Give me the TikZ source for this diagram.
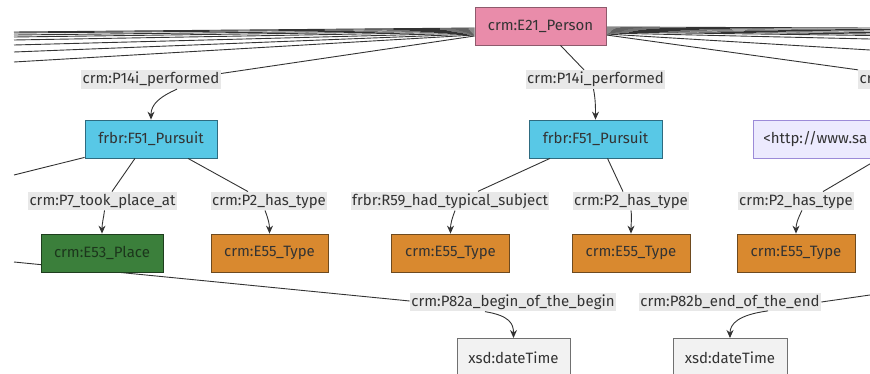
\documentclass[tikz,border=0pt]{standalone}
\usepackage{fontspec}
\setmainfont{Fira Sans}
\usepackage{xcolor}
\usetikzlibrary{arrows.meta,positioning,backgrounds}

\definecolor{ink}{HTML}{333333}
\definecolor{lblgray}{HTML}{E8E8E8}
\definecolor{personfill}{HTML}{E98CAA}
\definecolor{persondraw}{HTML}{8E5A6C}
\definecolor{pursuitfill}{HTML}{58C8E6}
\definecolor{pursuitdraw}{HTML}{2E6B80}
\definecolor{placefill}{HTML}{3B7F3B}
\definecolor{placedraw}{HTML}{1E3E1E}
\definecolor{placetext}{HTML}{1C361C}
\definecolor{typefill}{HTML}{D9892F}
\definecolor{typedraw}{HTML}{6E4A1F}
\definecolor{uriFill}{HTML}{ECEAFE}
\definecolor{uriDraw}{HTML}{9C8BD8}
\definecolor{timefill}{HTML}{F2F2F2}
\definecolor{timedraw}{HTML}{707070}

\begin{document}
\begin{tikzpicture}[x=1pt, y=-1pt,
    box/.style={draw, line width=0.8pt, minimum height=38pt, inner sep=0pt,
        font=\fontsize{15}{17}\selectfont, text=ink},
    person/.style={box, fill=personfill, draw=persondraw},
    pursuit/.style={box, fill=pursuitfill, draw=pursuitdraw},
    place/.style={box, fill=placefill, draw=placedraw, text=placetext},
    etype/.style={box, fill=typefill, draw=typedraw},
    uri/.style={box, fill=uriFill, draw=uriDraw},
    stamp/.style={box, fill=timefill, draw=timedraw},
    lbl/.style={fill=lblgray, inner xsep=1.5pt, inner ysep=2pt,
        font=\fontsize{15}{17}\selectfont, text=ink},
    link/.style={draw=ink, line width=0.9pt},
    arr/.style={link, -{Stealth[length=8pt, width=7pt]}}]
    \useasboundingbox (0,0) rectangle (870,374);

    % classes
    \node[person, minimum width=131pt] (person) at (540.5,26) {crm:E21\_Person};
    \node[pursuit, minimum width=132pt] (pursuitA) at (151,139) {frbr:F51\_Pursuit};
    \node[pursuit, minimum width=133pt] (pursuitB) at (595.5,139) {frbr:F51\_Pursuit};
    \node[uri, anchor=west, inner xsep=10pt, text width=130pt, align=left] (uri) at (753,139) {<http://www.sa};
    \node[place, minimum width=122pt] (place) at (102,253) {crm:E53\_Place};
    \node[etype, minimum width=117pt] (typeA) at (269.5,253) {crm:E55\_Type};
    \node[etype, minimum width=118pt] (typeB) at (450.5,253) {crm:E55\_Type};
    \node[etype, minimum width=118pt] (typeC) at (631,253) {crm:E55\_Type};
    \node[etype, minimum width=118pt] (typeD) at (796,253) {crm:E55\_Type};
    \node[stamp, minimum width=113pt, anchor=north] (timeA) at (513.5,338) {xsd:dateTime};
    \node[stamp, minimum width=114pt, anchor=north] (timeB) at (730,338) {xsd:dateTime};

    % edge labels
    \node[lbl] (lblPerfA) at (151,79.5) {crm:P14i\_performed};
    \node[lbl] (lblPerfB) at (595.5,79.5) {crm:P14i\_performed};
    \node[lbl, anchor=west] (lblPerfC) at (858,79.5) {crm:P14i\_performed};
    \node[lbl] (lblPlace) at (102.5,201) {crm:P7\_took\_place\_at};
    \node[lbl] (lblTypeA) at (269,201) {crm:P2\_has\_type};
    \node[lbl] (lblSubject) at (450,201) {frbr:R59\_had\_typical\_subject};
    \node[lbl] (lblTypeC) at (631,201) {crm:P2\_has\_type};
    \node[lbl] (lblTypeD) at (796,201) {crm:P2\_has\_type};
    \node[lbl] (lblBegin) at (513,302) {crm:P82a\_begin\_of\_the\_begin};
    \node[lbl] (lblEnd) at (730,302) {crm:P82b\_end\_of\_the\_end};

    % free ends outside the frame
    \coordinate (farA) at (14,175);
    \coordinate (farPlace) at (14,262);
    \coordinate (farUri) at (880,158);
    \coordinate (farEnd) at (870,295);

    \begin{scope}[on background layer]
        \foreach \y/\d in {32/2, 33/3, 35/4, 37/5, 40/6, 45/7, 52/8, 62/9} {
            \coordinate (fanL\d) at (14,\y);
            \draw[link] (fanL\d) -- ([yshift=-\d pt]person.west);
        }
        \foreach \y/\d in {28/1, 29.5/2, 31/3, 32.5/4, 34/5, 35.5/6, 39/7, 50/8} {
            \coordinate (fanR\d) at (870,\y);
            \draw[link] ([yshift=-\d pt]person.east) -- (fanR\d);
        }
        \draw[link] ([yshift=-10pt]person.west) -- ([yshift=6pt]lblPerfA.east);
        \draw[link] ([yshift=-9pt]person.east) -- (lblPerfC.north west);
        \draw[link] ([yshift=1pt]pursuitA.south west) -- (farA);
        \draw[link] (farPlace) -- ([yshift=1pt]lblBegin.west);
        \draw[link] (farUri) -- ([xshift=27pt]lblTypeD.north);
        \draw[link] (farEnd) -- (lblEnd.east);
    \end{scope}

    % person -> pursuits
    \draw[arr] ([xshift=26pt]lblPerfA.south) .. controls +(-18,8) and +(0,-15) .. (pursuitA.north);
    \draw[link] ([xshift=20pt]person.south) -- ([xshift=-11.5pt]lblPerfB.north);
    \draw[arr] ([xshift=-2pt]lblPerfB.south) .. controls +(2,10) and +(0,-12) .. (pursuitB.north);

    % pursuit A
    \draw[link] ([xshift=-16pt]pursuitA.south) -- ([xshift=9.5pt]lblPlace.north);
    \draw[arr] ([xshift=2pt]lblPlace.south) .. controls +(-1,8) and +(0,-10) .. (place.north);
    \draw[link] ([xshift=37pt]pursuitA.south) -- ([xshift=-21pt]lblTypeA.north);
    \draw[arr] ([xshift=-4pt]lblTypeA.south) .. controls +(3,8) and +(0,-10) .. (typeA.north);

    % pursuit B
    \draw[link] ([xshift=-45.5pt]pursuitB.south) -- ([xshift=28pt]lblSubject.north);
    \draw[arr] ([xshift=5pt]lblSubject.south) .. controls +(-3,8) and +(0,-10) .. (typeB.north);
    \draw[link] ([xshift=12pt]pursuitB.south) -- ([xshift=-8pt]lblTypeC.north);
    \draw[arr] (lblTypeC.south) .. controls +(1,8) and +(0,-10) .. (typeC.north);

    % uri and time spans
    \draw[arr] ([xshift=6pt]lblTypeD.south) .. controls +(-4,8) and +(0,-10) .. (typeD.north);
    \draw[arr] ([xshift=-28pt]lblBegin.south) .. controls +(25,4) and +(0,-14) .. (timeA.north);
    \draw[arr] ([xshift=38pt]lblEnd.south) .. controls +(-30,4) and +(0,-14) .. (timeB.north);
\end{tikzpicture}
\end{document}
